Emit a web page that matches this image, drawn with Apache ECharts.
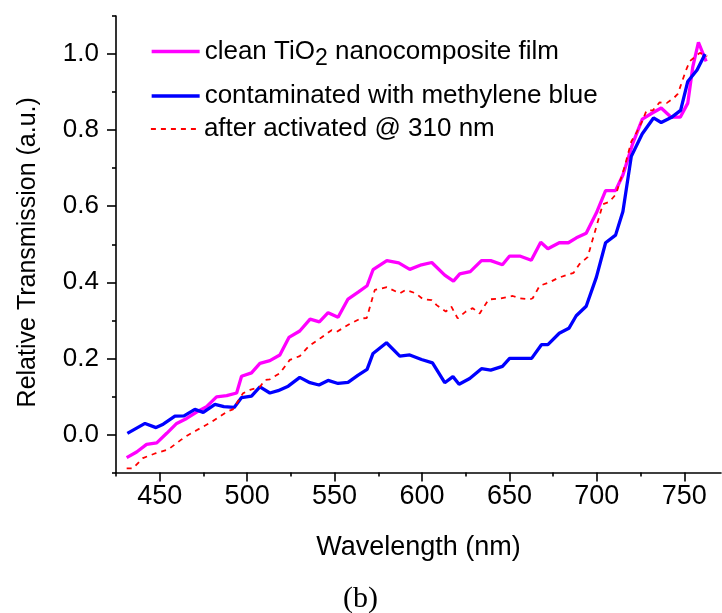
<!DOCTYPE html>
<html>
<head>
<meta charset="utf-8">
<script src="https://cdn.jsdelivr.net/npm/echarts@6/dist/echarts.min.js"></script>
<style>
html,body{margin:0;padding:0;background:#fff;}
#c{width:722px;height:613px;}
</style>
</head>
<body>
<div id="c"></div>
<script>
// Wavelength (nm) and relative transmission for each curve
const cleanX = [431.1,436.8,442.5,448.3,454.0,459.7,465.4,471.1,476.8,482.5,488.3,494.0,496.8,502.5,507.3,513.0,518.7,523.9,530.1,536.0,541.3,546.3,552.0,557.7,563.5,568.6,572.0,579.9,586.7,593.0,599.7,605.6,613.0,618.0,621.6,627.6,634.0,639.3,646.0,650.1,655.9,662.5,667.9,672.0,678.5,683.7,688.3,693.9,699.7,705.0,710.7,714.9,720.6,726.0,731.7,736.8,742.5,747.7,752.0,754.9,758.1,762.5];
const cleanY = [-0.061,-0.046,-0.026,-0.022,0.003,0.029,0.042,0.059,0.073,0.099,0.102,0.109,0.153,0.162,0.187,0.194,0.209,0.255,0.272,0.303,0.296,0.320,0.308,0.356,0.374,0.391,0.433,0.457,0.451,0.434,0.446,0.452,0.419,0.403,0.422,0.428,0.457,0.457,0.446,0.469,0.469,0.458,0.505,0.488,0.504,0.504,0.517,0.529,0.582,0.641,0.641,0.682,0.766,0.829,0.845,0.858,0.834,0.834,0.871,0.967,1.031,0.981];

const mbX = [431.5,441.6,447.9,452.0,458.7,463.9,470.1,474.9,481.6,486.7,492.6,496.8,502.5,507.3,513.0,517.7,523.5,530.1,535.9,541.1,546.3,552.0,557.7,563.5,568.6,572.0,579.7,587.3,593.0,599.7,606.0,613.0,617.7,621.2,627.3,634.0,639.3,646.0,650.1,662.7,668.3,672.0,678.5,684.0,688.2,693.9,699.7,705.0,710.7,714.9,719.7,725.9,732.4,736.8,742.5,747.9,752.0,757.3,761.9];
const mbY = [0.003,0.029,0.018,0.027,0.048,0.049,0.066,0.058,0.079,0.073,0.071,0.097,0.101,0.125,0.109,0.115,0.127,0.150,0.136,0.130,0.142,0.134,0.137,0.156,0.171,0.213,0.241,0.206,0.209,0.197,0.188,0.136,0.152,0.132,0.147,0.173,0.169,0.179,0.200,0.200,0.236,0.236,0.266,0.279,0.312,0.337,0.413,0.504,0.524,0.586,0.731,0.790,0.832,0.820,0.833,0.852,0.928,0.958,1.000];

const actX = [431.1,434.7,440.4,447.3,454.7,462.5,466.1,471.1,479.7,483.3,489.0,491.9,497.6,501.6,507.3,510.1,513.0,518.7,524.4,530.1,535.3,542.5,548.3,551.3,558.1,565.0,568.4,573.0,579.9,587.3,590.7,596.4,600.4,605.6,608.4,613.6,616.8,620.4,625.0,629.0,633.0,638.1,644.4,651.9,655.9,661.6,663.3,667.3,673.0,677.6,683.3,686.7,690.1,694.7,703.4,707.3,711.0,715.9,719.7,722.5,726.3,728.4,732.0,735.9,739.9,743.9,746.3,750.7,753.1,758.9,763.1];
const actY = [-0.089,-0.089,-0.062,-0.050,-0.040,-0.013,-0.002,0.011,0.033,0.044,0.061,0.066,0.108,0.117,0.125,0.143,0.145,0.161,0.196,0.206,0.232,0.255,0.274,0.270,0.289,0.305,0.306,0.380,0.387,0.371,0.380,0.371,0.356,0.353,0.340,0.323,0.336,0.305,0.323,0.332,0.318,0.355,0.357,0.364,0.358,0.355,0.358,0.391,0.400,0.411,0.420,0.425,0.448,0.466,0.605,0.612,0.632,0.704,0.770,0.792,0.827,0.852,0.852,0.873,0.871,0.884,0.895,0.954,0.981,1.003,0.994];

const xMajor = [450,500,550,600,650,700,750];
const xMinor = [425,475,525,575,625,675,725];
const yMajor = [0.0,0.2,0.4,0.6,0.8,1.0];
const yMinor = [-0.1,0.1,0.3,0.5,0.7,0.9,1.1];

const names = ['clean', 'contaminated', 'activated'];

const pairs = (xs, ys) => xs.map((x, i) => [x, ys[i]]);
const FONT = '"Liberation Sans", Arial, sans-serif';

const chart = echarts.init(document.getElementById('c'), null, {renderer: 'canvas'});

const legendBase = {
  orient: 'vertical', left: 150, padding: 0, itemWidth: 48, itemHeight: 14,
  selectedMode: false,
  itemStyle: {color: 'rgba(0,0,0,0)', borderColor: 'rgba(0,0,0,0)', borderWidth: 0},
  textStyle: {fontFamily: FONT, fontSize: 26, color: '#000', lineHeight: 30}
};

chart.setOption({
  animation: false,
  backgroundColor: '#fff',
  grid: {left: 116, top: 16, right: 1, bottom: 140.5, containLabel: false},
  legend: [
    Object.assign({}, legendBase, {
      top: 33, data: [names[0]],
      lineStyle: {width: 3.3},
      formatter: () => 'clean TiO{sub|2} nanocomposite film',
      textStyle: Object.assign({}, legendBase.textStyle, {
        rich: {
          sub: {fontFamily: FONT, fontSize: 23, color: '#000', lineHeight: 30, padding: [14, 0, 0, 0]}
        }
      })
    }),
    Object.assign({}, legendBase, {
      top: 81, data: [names[1]],
      lineStyle: {width: 3.3},
      formatter: () => 'contaminated with methylene blue'
    }),
    Object.assign({}, legendBase, {
      top: 114, data: [names[2]],
      lineStyle: {width: 1.8},
      formatter: () => 'after activated @ 310 nm'
    })
  ],
  xAxis: [{
    type: 'value', min: 425, max: 771,
    name: 'Wavelength (nm)', nameLocation: 'middle', nameGap: 62,
    nameTextStyle: {fontFamily: FONT, fontSize: 27, color: '#000'},
    axisLine: {show: true, onZero: false, lineStyle: {color: '#000', width: 1.6}},
    axisTick: {show: true, inside: false, length: 9, customValues: xMajor, lineStyle: {color: '#000', width: 1.6}},
    axisLabel: {customValues: xMajor, margin: 11, fontFamily: FONT, fontSize: 27, color: '#000'},
    splitLine: {show: false}
  }, {
    type: 'value', min: 425, max: 771, position: 'bottom',
    axisLine: {show: false, onZero: false},
    axisTick: {show: true, length: 4, customValues: xMinor, lineStyle: {color: '#000', width: 1.6}},
    axisLabel: {show: false, customValues: xMinor},
    splitLine: {show: false}
  }],
  yAxis: [{
    type: 'value', min: -0.1, max: 1.1,
    name: 'Relative Transmission (a.u.)', nameLocation: 'middle', nameGap: 75,
    nameTextStyle: {fontFamily: FONT, fontSize: 25, color: '#000', padding: [0, 0, 0, -16]},
    axisLine: {show: true, onZero: false, lineStyle: {color: '#000', width: 1.6}},
    axisTick: {show: true, length: 9, customValues: yMajor, lineStyle: {color: '#000', width: 1.6}},
    axisLabel: {customValues: yMajor, margin: 17, fontFamily: FONT, fontSize: 26, color: '#000',
      formatter: v => v.toFixed(1)},
    splitLine: {show: false}
  }, {
    type: 'value', min: -0.1, max: 1.1, position: 'left',
    axisLine: {show: false, onZero: false},
    axisTick: {show: true, length: 4, customValues: yMinor, lineStyle: {color: '#000', width: 1.6}},
    axisLabel: {show: false, customValues: yMinor},
    splitLine: {show: false}
  }],
  series: [{
    name: names[0], type: 'line', data: pairs(cleanX, cleanY),
    symbol: 'none', color: '#ff00ff', lineStyle: {color: '#ff00ff', width: 3.3}, z: 2
  }, {
    name: names[1], type: 'line', data: pairs(mbX, mbY),
    symbol: 'none', color: '#0000ff', lineStyle: {color: '#0000ff', width: 3.3}, z: 3
  }, {
    name: names[2], type: 'line', data: pairs(actX, actY),
    symbol: 'none', color: '#ff0000', lineStyle: {color: '#ff0000', width: 1.8, type: [5, 5]}, z: 4
  }],
  graphic: [{
    type: 'text', left: 343, top: 584,
    style: {text: '(b)', fontFamily: '"Liberation Serif", "Times New Roman", serif', fontSize: 30, fill: '#000'}
  }]
});
</script>
</body>
</html>
